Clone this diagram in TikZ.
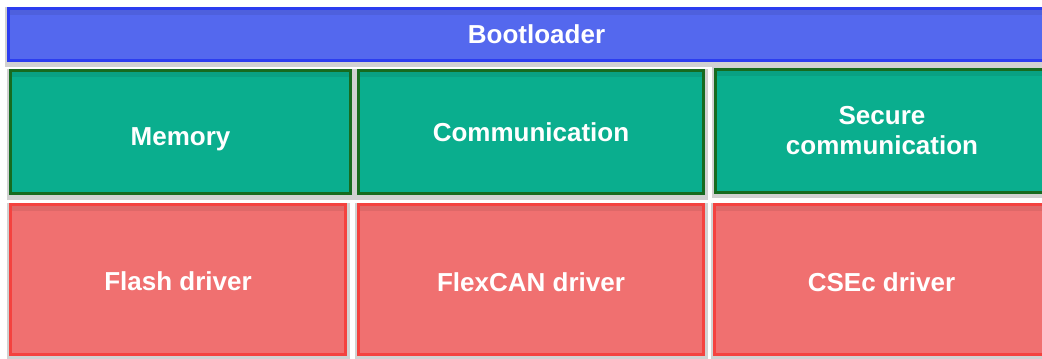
\documentclass[tikz,border=0pt]{standalone}
\usepackage{fontspec}
\setmainfont{Liberation Sans}
\usetikzlibrary{positioning}
\definecolor{bootfill}{HTML}{5468EE}
\definecolor{bootline}{HTML}{2C3DEF}
\definecolor{modfill}{HTML}{0AAE8E}
\definecolor{modline}{HTML}{176B1F}
\definecolor{drvfill}{HTML}{F07070}
\definecolor{drvline}{HTML}{F4423F}
\newcommand{\lowertext}[2]{\raisebox{-#1}[\height][\depth]{#2}}
\tikzset{
  softshadow/.style={preaction={draw=black!18,line width=6pt,transform canvas={yshift=-1.5pt}}},
  innershade/.style={path picture={\fill[black,opacity=.07] (path picture bounding box.north west) rectangle ([yshift=-5pt]path picture bounding box.north east);}},
  layerbox/.style={draw=bootline,fill=bootfill,line width=2.2pt,softshadow,innershade,minimum width=792pt,minimum height=39pt,inner sep=0pt,outer sep=0pt,align=center,text=white,font=\fontsize{19.5}{22.5}\selectfont\bfseries},
  modulebox/.style={draw=modline,fill=modfill,line width=2.2pt,softshadow,innershade,minimum height=92.25pt,inner sep=0pt,outer sep=0pt,align=center,text=white,font=\fontsize{19.5}{22.5}\selectfont\bfseries},
  driverbox/.style={draw=drvline,fill=drvfill,line width=2.2pt,softshadow,innershade,minimum height=112.5pt,inner sep=0pt,outer sep=0pt,align=center,text=white,font=\fontsize{19.5}{22.5}\selectfont\bfseries}
}
\begin{document}
\begin{tikzpicture}[x=0.75pt,y=-0.75pt]
  \clip (0,0) rectangle (1042,358);
  \fill[white] (0,0) rectangle (1042,358);
  % Top layer
  \node[layerbox] (boot) at (536.5,34.5) {Bootloader};

  % Services
  \node[modulebox,minimum width=255pt] (memory) at (180.5,132) {\lowertext{5.25pt}{Memory}};
  \node[modulebox,minimum width=258.75pt,right=6pt of memory] (comm) {Communication};
  \node[modulebox,minimum width=249.75pt,right=9pt of comm,yshift=1pt] (secure) {Secure\\communication};

  % Drivers
  \node[driverbox,minimum width=251.25pt] (flashdrv) at (178,279.5) {\lowertext{1.5pt}{Flash driver}};
  \node[driverbox,minimum width=258.75pt,right=9.75pt of flashdrv] (candrv) {\lowertext{2.25pt}{FlexCAN driver}};
  \node[driverbox,minimum width=250.5pt,right=8.25pt of candrv] (csedrv) {\lowertext{2.25pt}{CSEc driver}};
\end{tikzpicture}
\end{document}
